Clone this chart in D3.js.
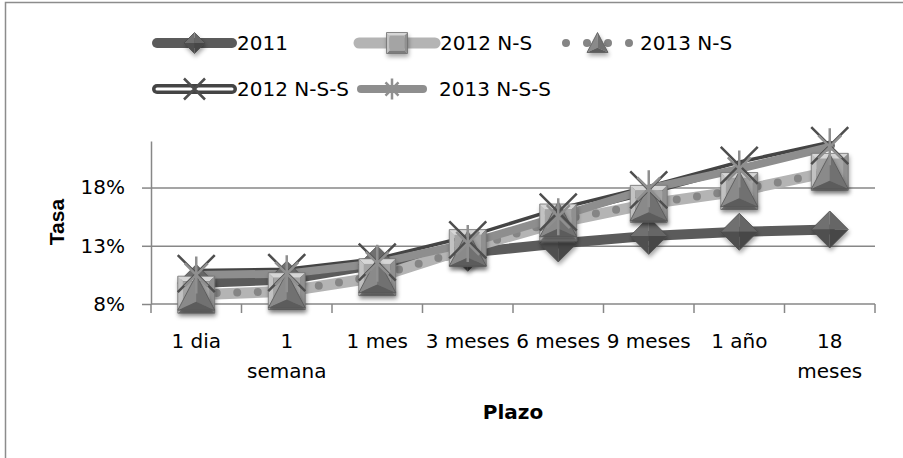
<!DOCTYPE html>
<html>
<head>
<meta charset="utf-8">
<script src="https://cdn.jsdelivr.net/npm/d3@7"></script>
<style>
  body { margin: 0; background: #fff; }
  text { font-family: "DejaVu Sans", sans-serif; fill: #000; }
</style>
</head>
<body>
<div id="chart"></div>
<script>
// categories (plazo) and rates per series
const categories = ["1 dia", "1 semana", "1 mes", "3 meses", "6 meses", "9 meses", "1 año", "18 meses"];
const tasa2011 = [0.098, 0.101, 0.114, 0.124, 0.132, 0.1385, 0.142, 0.144];
const tasa2012NS = [0.088, 0.091, 0.103, 0.128, 0.150, 0.166, 0.177, 0.1935];
const tasa2013NS = [0.089, 0.091, 0.104, 0.127, 0.152, 0.166, 0.178, 0.193];
const tasa2012NSS = [0.106, 0.107, 0.116, 0.135, 0.159, 0.178, 0.199, 0.216];
const tasa2013NSS = [0.105, 0.106, 0.115, 0.132, 0.155, 0.179, 0.196, 0.215];
const seriesNames = ["2011", "2012 N-S", "2013 N-S", "2012 N-S-S", "2013 N-S-S"];
const yTicks = [0.08, 0.13, 0.18];

const width = 903, height = 458;
const plot = { left: 151, right: 875, top: 141, bottom: 304 };

const series = [
  { name: seriesNames[0], values: tasa2011, marker: "diamond", line: { color: "#5b5b5b", w: 10 } },
  { name: seriesNames[1], values: tasa2012NS, marker: "square", line: { color: "#b4b4b4", w: 11 } },
  { name: seriesNames[2], values: tasa2013NS, marker: "triangle", line: { color: "#858585", w: 8, dash: "0 20.5" } },
  { name: seriesNames[3], values: tasa2012NSS, marker: "x", line: { color: "#444", w: 10, inner: "#fff" } },
  { name: seriesNames[4], values: tasa2013NSS, marker: "star", line: { color: "#8e8e8e", w: 8 } }
];

const svg = d3
  .select("#chart")
  .append("svg")
  .attr("width", width)
  .attr("height", height);

const defs = svg.append("defs");
defs
  .append("filter")
  .attr("id", "shadow")
  .attr("x", "-40%").attr("y", "-40%")
  .attr("width", "180%").attr("height", "180%")
  .append("feDropShadow")
  .attr("dx", 1).attr("dy", 3)
  .attr("stdDeviation", 2)
  .attr("flood-color", "#000")
  .attr("flood-opacity", 0.35);

// chart area border (only top and left edges show)
svg
  .append("path")
  .attr("d", `M5.5,${height} V2.5 H${width}`)
  .attr("fill", "none")
  .attr("stroke", "#8c8c8c")
  .attr("stroke-width", 1.5);

// scales
const x = d3.scaleBand().domain(categories).range([plot.left, plot.right]);
const y = d3.scaleLinear().domain([0.08, 0.22]).range([plot.bottom, plot.top]);
const cx = (i) => x(categories[i]) + x.bandwidth() / 2;

// gridlines
svg
  .append("g")
  .attr("transform", `translate(${plot.left}, 0)`)
  .call(d3.axisLeft(y).tickValues(yTicks.slice(1)).tickSize(-(plot.right - plot.left)).tickFormat(""))
  .call((g) => g.select(".domain").remove())
  .selectAll("line")
  .attr("stroke", "#878787")
  .attr("stroke-width", 1.5);

// y axis
const yAxis = svg
  .append("g")
  .attr("transform", `translate(${plot.left}, 0)`)
  .call(d3.axisLeft(y).tickValues(yTicks).tickFormat(d3.format(".0%")).tickSize(9).tickSizeOuter(0).tickPadding(17));
yAxis.select(".domain").attr("stroke", "#878787").attr("stroke-width", 1.5);
yAxis.selectAll("line").attr("stroke", "#878787").attr("stroke-width", 1.5);
yAxis.selectAll("text").style("font-size", "20px").attr("fill", "#000");

// x axis line + tick marks at category boundaries
svg
  .append("line")
  .attr("x1", plot.left).attr("x2", plot.right)
  .attr("y1", plot.bottom).attr("y2", plot.bottom)
  .attr("stroke", "#878787").attr("stroke-width", 1.5);
const bounds = categories.map((c) => x(c)).concat([x(categories[categories.length - 1]) + x.bandwidth()]);
svg
  .append("g")
  .selectAll("line")
  .data(bounds)
  .join("line")
  .attr("x1", (d) => d).attr("x2", (d) => d)
  .attr("y1", plot.bottom).attr("y2", plot.bottom + 9)
  .attr("stroke", "#878787").attr("stroke-width", 1.5);

// category labels, wrapped when wider than the band
const xLabels = svg
  .append("g")
  .selectAll("text")
  .data(categories)
  .join("text")
  .attr("x", (d, i) => cx(i))
  .attr("y", 348)
  .attr("text-anchor", "middle")
  .style("font-size", "20px")
  .text((d) => d);
xLabels.each(function (d) {
  const t = d3.select(this);
  if (this.getComputedTextLength() > x.bandwidth() - 2) {
    const parts = d.split(" ");
    t.text(null);
    t.append("tspan").attr("x", t.attr("x")).text(parts[0]);
    t.append("tspan").attr("x", t.attr("x")).attr("dy", 30).text(parts.slice(1).join(" "));
  }
});

// axis titles
svg
  .append("text")
  .attr("x", (plot.left + plot.right) / 2)
  .attr("y", 419)
  .attr("text-anchor", "middle")
  .style("font-size", "20px")
  .style("font-weight", "bold")
  .text("Plazo");
svg
  .append("text")
  .attr("transform", "translate(64, 222) rotate(-90)")
  .attr("text-anchor", "middle")
  .style("font-family", "'Liberation Sans', Arial, sans-serif")
  .style("font-size", "21px")
  .style("font-weight", "bold")
  .text("Tasa");

// marker shapes, bevelled a bit like the original
const poly = (pts) => "M" + pts.map((p) => p.join(",")).join("L") + "Z";

function drawMarker(g, type, s) {
  const h = s / 2;
  if (type === "diamond") {
    const T = [0, -h], R = [h, 0], B = [0, h], L = [-h, 0], C = [0, 0];
    [[T, L, "#707070"], [T, R, "#666"], [L, B, "#505050"], [R, B, "#474747"]].forEach(([a, b, c]) =>
      g.append("path").attr("d", poly([a, b, C])).attr("fill", c));
    g.append("path").attr("d", poly([T, R, B, L])).attr("fill", "none").attr("stroke", "#4a4a4a").attr("stroke-width", 0.8);
  } else if (type === "square") {
    const k = s * 0.14;
    const o = [[-h, -h], [h, -h], [h, h], [-h, h]];
    const n = [[-h + k, -h + k], [h - k, -h + k], [h - k, h - k], [-h + k, h - k]];
    g.append("path").attr("d", poly([o[0], o[1], n[1], n[0]])).attr("fill", "#d6d6d6");
    g.append("path").attr("d", poly([o[1], o[2], n[2], n[1]])).attr("fill", "#909090");
    g.append("path").attr("d", poly([o[2], o[3], n[3], n[2]])).attr("fill", "#7c7c7c");
    g.append("path").attr("d", poly([o[3], o[0], n[0], n[3]])).attr("fill", "#c2c2c2");
    g.append("path").attr("d", poly(n)).attr("fill", "#a4a4a4");
    g.append("path").attr("d", poly(o)).attr("fill", "none").attr("stroke", "#6e6e6e").attr("stroke-width", 0.8);
  } else if (type === "triangle") {
    const A = [0, -h], BL = [-h, h * 0.9], BR = [h, h * 0.9], C = [0, h * 0.45];
    g.append("path").attr("d", poly([A, BL, C])).attr("fill", "#8a8a8a");
    g.append("path").attr("d", poly([A, BR, C])).attr("fill", "#717171");
    g.append("path").attr("d", poly([BL, BR, C])).attr("fill", "#5c5c5c");
    g.append("path").attr("d", poly([A, BR, BL])).attr("fill", "none").attr("stroke", "#555").attr("stroke-width", 0.8);
  } else if (type === "x") {
    g.append("path")
      .attr("d", `M${-h},${-h}L${h},${h}M${h},${-h}L${-h},${h}`)
      .attr("stroke", "#4e4e4e").attr("stroke-width", 2.5);
  } else if (type === "star") {
    const d = h * 0.62;
    g.append("path")
      .attr("d", `M0,${-h}L0,${h}M${-d},${-d}L${d},${d}M${d},${-d}L${-d},${d}`)
      .attr("stroke", "#8f8f8f").attr("stroke-width", 2.5);
  }
}

function drawLine(g, line, pts) {
  const path = g.append("path")
    .attr("d", d3.line()(pts))
    .attr("fill", "none")
    .attr("stroke", line.color)
    .attr("stroke-width", line.w)
    .attr("stroke-linecap", "round")
    .attr("stroke-linejoin", "round");
  if (line.dash) path.attr("stroke-dasharray", line.dash);
  if (line.inner) {
    g.append("path")
      .attr("d", d3.line()(pts))
      .attr("fill", "none")
      .attr("stroke", line.inner)
      .attr("stroke-width", 3)
      .attr("stroke-linecap", "round")
      .attr("stroke-linejoin", "round");
  }
}

// all lines first, then all markers (as in the original)
const lineLayer = svg.append("g");
series.forEach((s) => drawLine(lineLayer, s.line, s.values.map((v, i) => [cx(i), y(v)])));

const markerLayer = svg.append("g");
series.forEach((s) => {
  s.values.forEach((v, i) => {
    const g = markerLayer.append("g").attr("transform", `translate(${cx(i)}, ${y(v)})`);
    if (s.marker !== "x" && s.marker !== "star") g.attr("filter", "url(#shadow)");
    drawMarker(g, s.marker, 37);
  });
});

// legend
const legendPos = [
  { x: 157, y: 43, len: 75, text: 237 },
  { x: 359, y: 43, len: 76, text: 440 },
  { x: 566, y: 43, len: 63, text: 640 },
  { x: 157, y: 89, len: 75, text: 237 },
  { x: 361, y: 89, len: 62, text: 439 }
];
const legend = svg.append("g");
series.forEach((s, i) => {
  const p = legendPos[i];
  const isDotted = !!s.line.dash;
  // dotted sample: dots at each end and two around the marker
  drawLine(legend, isDotted ? { ...s.line, dash: "0 21" } : s.line, [[p.x, p.y], [p.x + p.len + (isDotted ? 0.5 : 0), p.y]]);
  const g = legend.append("g").attr("transform", `translate(${p.x + p.len / 2}, ${p.y})`);
  if (s.marker !== "x" && s.marker !== "star") g.attr("filter", "url(#shadow)");
  drawMarker(g, s.marker, 21);
  legend
    .append("text")
    .attr("x", p.text)
    .attr("y", p.y + 7)
    .style("font-size", "20px")
    .text(s.name);
});
</script>
</body>
</html>
